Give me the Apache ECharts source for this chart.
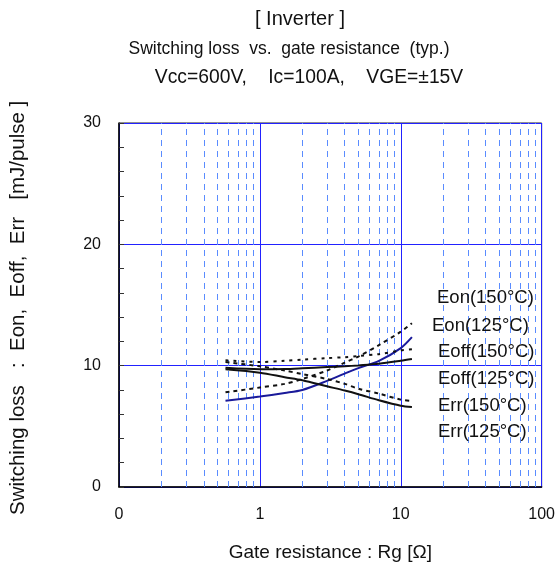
<!DOCTYPE html>
<html>
<head>
<meta charset="utf-8">
<script src="https://cdn.jsdelivr.net/npm/echarts@6/dist/echarts.min.js"></script>
<style>html,body{margin:0;padding:0;background:#fff}#c{width:558px;height:567px}</style>
</head>
<body>
<div id="c"></div>
<script>
// ---- data ----
const rg       = [0.57, 1, 1.5, 2, 3, 4, 5, 7, 10, 12];
const eon150   = [7.1, 7.45, 7.75, 8.0, 8.75, 9.35, 9.8, 10.4, 11.45, 12.35];
const eon125   = [7.8, 8.2, 8.5, 8.9, 9.6, 10.25, 10.75, 11.7, 12.8, 13.5];
const eoff150  = [9.82, 9.7, 9.72, 9.78, 9.88, 9.95, 10.02, 10.15, 10.4, 10.55];
const eoff125  = [10.45, 10.3, 10.4, 10.5, 10.62, 10.7, 10.8, 10.95, 11.25, 11.35];
const err150   = [9.7, 9.42, 9.05, 8.8, 8.3, 7.95, 7.65, 7.15, 6.7, 6.6];
const err125   = [10.3, 9.95, 9.6, 9.3, 8.9, 8.5, 8.1, 7.7, 7.2, 7.1];
const minorRg  = [0.2,0.3,0.4,0.5,0.6,0.7,0.8,0.9,2,3,4,5,6,7,8,9,20,30,40,50,60,70,80,90];
const xTickText = {"0.1":"0", "1":"1", "10":"10", "100":"100"};
const labels   = ["Eon(150°C)", "Eon(125°C)", "Eoff(150°C)", "Eoff(125°C)", "Err(150°C)", "Err(125°C)"];
const titles   = ["[ Inverter ]", "Switching loss  vs.  gate resistance  (typ.)", "Vcc=600V,    Ic=100A,    VGE=±15V"];

const pairs = v => rg.map((x, i) => [x, v[i]]);
const FONT = 'Liberation Sans, Arial, sans-serif';

const chart = echarts.init(document.getElementById('c'), null, {renderer: 'canvas'});
const labelPos = [[437,298],[432,326],[438,352],[438,379],[438,406],[438,432]];
const titleLayout = [[300, 9, 20], [289, 40, 17.5], [309, 68, 19.3]];

chart.setOption({
  animation: false,
  backgroundColor: '#fff',
  title: titles.map((t, i) => ({
    text: t, left: titleLayout[i][0], top: titleLayout[i][1], textAlign: 'center', padding: 0,
    textStyle: {fontFamily: FONT, fontSize: titleLayout[i][2], fontWeight: 'normal', color: '#111'}
  })),
  grid: {left: 118, right: 14, top: 123, bottom: 80, show: true, borderColor: '#222', borderWidth: 1},
  xAxis: {
    type: 'log', logBase: 10, min: 0.1, max: 100,
    name: 'Gate resistance : Rg [Ω]', nameLocation: 'middle', nameGap: 56,
    nameTextStyle: {fontFamily: FONT, fontSize: 19, color: '#111'},
    axisLine: {onZero: false, lineStyle: {color: '#000', width: 1.5}},
    axisTick: {show: false},
    axisLabel: {fontFamily: FONT, fontSize: 16, color: '#111', margin: 20,
      formatter: v => { const k = String(+(+v).toPrecision(3)); return xTickText[k] !== undefined ? xTickText[k] : ''; }},
    splitLine: {show: true, lineStyle: {color: '#2222ff', width: 1}}
  },
  yAxis: {
    type: 'value', min: 0, max: 30, interval: 10,
    name: 'Switching loss   :  Eon,  Eoff,  Err   [mJ/pulse ] ', nameLocation: 'middle', nameGap: 90,
    nameTextStyle: {fontFamily: FONT, fontSize: 20.5, color: '#111'},
    axisLine: {show: true, onZero: false, lineStyle: {color: '#000', width: 1.5}},
    axisTick: {show: true, inside: true, length: 5, lineStyle: {color: '#333'}},
    minorTick: {show: true, splitNumber: 5, length: 5, lineStyle: {color: '#333'}},
    axisLabel: {fontFamily: FONT, fontSize: 16, color: '#111', margin: 18},
    splitLine: {show: true, lineStyle: {color: '#2222ff', width: 1}}
  },
  graphic: labels.map((t, i) => ({
    type: 'text', left: labelPos[i][0], top: labelPos[i][1] - 10, z: 10,
    style: {text: t, font: '18.5px ' + FONT, fill: '#111'}
  })),
  series: [
    {name: 'Eon(150°C)', type: 'line', data: pairs(eon150), showSymbol: false, smooth: 0.3,
     lineStyle: {color: '#1a1a9a', width: 2}, z: 5,
     markLine: {silent: true, symbol: 'none', label: {show: false}, z: 1,
       lineStyle: {color: '#5a8cff', width: 1, type: [6, 5]},
       data: minorRg.map(x => ({xAxis: x}))}},
    {name: 'Eon(125°C)', type: 'line', data: pairs(eon125), showSymbol: false, smooth: 0.3,
     lineStyle: {color: '#111', width: 2, type: [4, 4]}, z: 5},
    {name: 'Eoff(150°C)', type: 'line', data: pairs(eoff150), showSymbol: false, smooth: 0.3,
     lineStyle: {color: '#111', width: 2}, z: 5},
    {name: 'Eoff(125°C)', type: 'line', data: pairs(eoff125), showSymbol: false, smooth: 0.3,
     lineStyle: {color: '#111', width: 2, type: [3, 5]}, z: 5},
    {name: 'Err(150°C)', type: 'line', data: pairs(err150), showSymbol: false, smooth: 0.3,
     lineStyle: {color: '#111', width: 2}, z: 5},
    {name: 'Err(125°C)', type: 'line', data: pairs(err125), showSymbol: false, smooth: 0.3,
     lineStyle: {color: '#111', width: 2, type: [4, 4]}, z: 5}
  ]
});
</script>
</body>
</html>
